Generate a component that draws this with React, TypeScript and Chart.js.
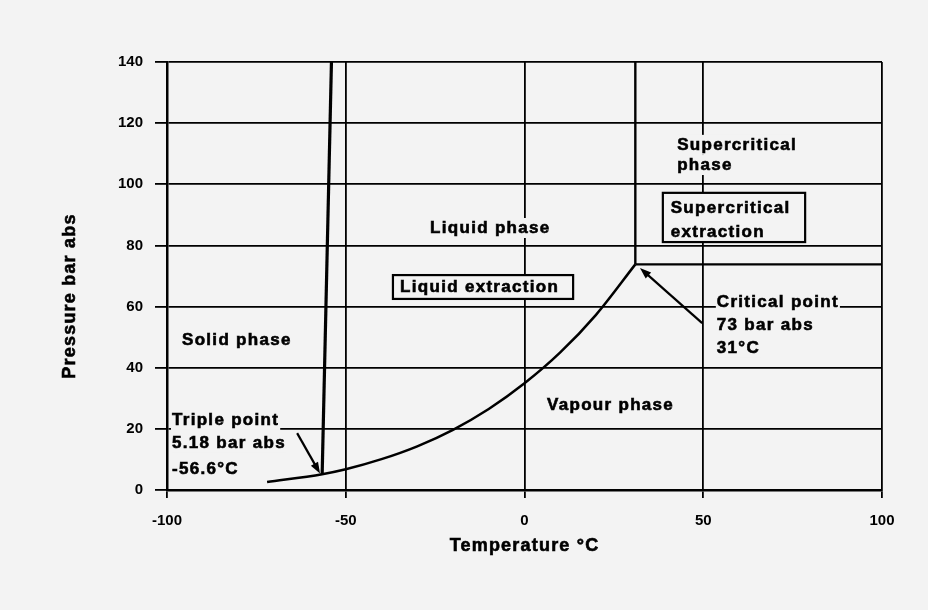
import React, { useEffect, useRef } from "react";
import { Chart, registerables } from "chart.js";

Chart.register(...registerables);

// Vapour-pressure / sublimation curve of CO2 (temperature °C, pressure bar abs)
const curveTemps = [-72, -56.6, -50, -40, -30, -20, -10, 0, 10, 20, 31];
const curvePressures = [2.6, 5.18, 6.8, 10.1, 14.3, 19.7, 26.5, 34.9, 45.0, 57.3, 73.8];

// Melting line from triple point upward
const meltTemps = [-56.6, -54];
const meltPressures = [5.18, 140];

// Critical isotherm (vertical) and critical isobar (horizontal)
const isothermTemps = [31, 31];
const isothermPressures = [73.8, 140];
const isobarTemps = [31, 100];
const isobarPressures = [73.8, 73.8];

// Axis ticks
const xTicks = [-100, -50, 0, 50, 100];
const yTicks = [0, 20, 40, 60, 80, 100, 120, 140];

const xTitle = "Temperature °C";
const yTitle = "Pressure bar abs";

// Annotation labels
const labelSolid = ["Solid phase"];
const labelLiquid = ["Liquid phase"];
const labelVapour = ["Vapour phase"];
const labelSuperPhase = ["Supercritical", "phase"];
const labelSuperExtraction = ["Supercritical", "extraction"];
const labelLiquidExtraction = ["Liquid extraction"];
const labelTriple = ["Triple point", "5.18 bar abs", "-56.6°C"];
const labelCritical = ["Critical point", "73 bar abs", "31°C"];

const BG = "#f3f3f3";
const FONT = '"Liberation Sans", Arial, Helvetica, sans-serif';

const toPts = (xs: number[], ys: number[]) => xs.map((x, i) => ({ x, y: ys[i] }));

type TextItem = { lines: string[]; t: number; p: number[]; box?: [number, number, number, number] };

const texts: TextItem[] = [
  { lines: labelSolid, t: -95.8, p: [49] },
  { lines: labelLiquid, t: -26.4, p: [85.7] },
  { lines: labelVapour, t: 6.3, p: [27.8] },
  { lines: labelSuperPhase, t: 42.7, p: [112.9, 106.3] },
  { lines: labelSuperExtraction, t: 40.9, p: [92.2, 84.4], box: [38.7, 78.5, 97.2, 81.1] },
  { lines: labelLiquidExtraction, t: -34.8, p: [66.4], box: [-36.8, 13.6, 70.3, 62.5] },
  { lines: labelTriple, t: -98.6, p: [22.9, 15.4, 6.9] },
  { lines: labelCritical, t: 53.8, p: [61.5, 54.0, 46.5] },
];

const arrows: { from: [number, number]; to: [number, number] }[] = [
  { from: [-63.6, 18.6], to: [-57.2, 5.4] },
  { from: [49.7, 54.6], to: [32.3, 72.6] },
];

const heavyText = (ctx: any, s: string, x: number, y: number) => {
  ctx.strokeText(s, x, y);
  ctx.fillText(s, x, y);
};

const annotationPlugin = {
  id: "annotations",
  beforeDraw(chart: any) {
    const { ctx } = chart;
    ctx.save();
    ctx.fillStyle = BG;
    ctx.fillRect(0, 0, chart.width, chart.height);
    ctx.restore();
  },
  afterDatasetsDraw(chart: any) {
    const { ctx, scales, chartArea } = chart;
    const xs = scales.x;
    const ys = scales.y;
    const px = (t: number) => xs.getPixelForValue(t);
    const py = (p: number) => ys.getPixelForValue(p);
    ctx.save();
    ctx.font = `bold 17px ${FONT}`;
    (ctx as any).letterSpacing = "1.3px";
    ctx.textBaseline = "middle";
    ctx.textAlign = "left";

    texts.forEach((item) => {
      if (item.box) {
        const [t0, t1, p0, p1] = item.box;
        const x0 = px(t0), x1 = px(t1), y0 = py(p0), y1 = py(p1);
        ctx.fillStyle = BG;
        ctx.fillRect(x0, y0, x1 - x0, y1 - y0);
        ctx.strokeStyle = "#000";
        ctx.lineWidth = 2.2;
        ctx.strokeRect(x0, y0, x1 - x0, y1 - y0);
      } else {
        item.lines.forEach((line, i) => {
          const w = ctx.measureText(line).width;
          const x = px(item.t);
          const y = py(item.p[i]);
          ctx.fillStyle = BG;
          ctx.fillRect(x - 1, y - 10, w + 2, 20);
        });
      }
    });
    ctx.fillStyle = "#000";
    ctx.strokeStyle = "#000";
    ctx.lineWidth = 0.6;
    texts.forEach((item) => {
      item.lines.forEach((line, i) => {
        heavyText(ctx, line, px(item.t), py(item.p[i]));
      });
    });

    arrows.forEach((a) => {
      const x0 = px(a.from[0]), y0 = py(a.from[1]);
      const x1 = px(a.to[0]), y1 = py(a.to[1]);
      const ang = Math.atan2(y1 - y0, x1 - x0);
      const head = 12;
      ctx.strokeStyle = "#000";
      ctx.lineWidth = 2.2;
      ctx.beginPath();
      ctx.moveTo(x0, y0);
      ctx.lineTo(x1 - Math.cos(ang) * head * 0.8, y1 - Math.sin(ang) * head * 0.8);
      ctx.stroke();
      ctx.beginPath();
      ctx.moveTo(x1, y1);
      ctx.lineTo(x1 - head * Math.cos(ang - 0.35), y1 - head * Math.sin(ang - 0.35));
      ctx.lineTo(x1 - head * Math.cos(ang + 0.35), y1 - head * Math.sin(ang + 0.35));
      ctx.closePath();
      ctx.fill();
    });

    ctx.font = `bold 18px ${FONT}`;
    (ctx as any).letterSpacing = "1.2px";
    ctx.textAlign = "center";
    ctx.lineWidth = 0.6;
    heavyText(ctx, xTitle, (chartArea.left + chartArea.right) / 2, chartArea.bottom + 56);
    ctx.translate(chartArea.left - 97, chartArea.top + 234);
    ctx.rotate(-Math.PI / 2);
    heavyText(ctx, yTitle, 0, 0);
    ctx.restore();
  },
};

export default function App() {
  const ref = useRef<HTMLCanvasElement>(null);
  useEffect(() => {
    if (!ref.current) return;
    const lineDs = (data: any[], width: number, extra: any = {}) => ({
      data,
      showLine: true,
      borderColor: "#000",
      borderWidth: width,
      pointRadius: 0,
      fill: false,
      ...extra,
    });
    const chart = new Chart(ref.current, {
      type: "scatter",
      data: {
        datasets: [
          lineDs(toPts(curveTemps, curvePressures), 2.5, { cubicInterpolationMode: "monotone" }),
          lineDs(toPts(meltTemps, meltPressures), 3.2),
          lineDs(toPts(isothermTemps, isothermPressures), 2.4),
          lineDs(toPts(isobarTemps, isobarPressures), 2.4),
        ],
      },
      options: {
        animation: false,
        responsive: false,
        maintainAspectRatio: false,
        layout: { padding: { left: 0, top: 62, right: 46, bottom: 0 } },
        plugins: { legend: { display: false }, tooltip: { enabled: false }, title: { display: false } },
        scales: {
          x: {
            type: "linear",
            min: xTicks[0],
            max: xTicks[xTicks.length - 1],
            afterFit: (s: any) => {
              s.height = 120;
            },
            afterBuildTicks: (s: any) => {
              s.ticks = xTicks.map((v) => ({ value: v }));
            },
            ticks: {
              color: "#000",
              font: { family: FONT, size: 15, weight: "bold" },
              padding: 14,
              maxRotation: 0,
            },
            grid: { color: "#000", lineWidth: 1.8, tickLength: 8 },
            border: { color: "#000", width: 2.5 },
          },
          y: {
            type: "linear",
            min: yTicks[0],
            max: yTicks[yTicks.length - 1],
            afterFit: (s: any) => {
              s.width = 167;
            },
            afterBuildTicks: (s: any) => {
              s.ticks = yTicks.map((v) => ({ value: v }));
            },
            ticks: {
              color: "#000",
              font: { family: FONT, size: 15, weight: "bold" },
              padding: 12,
            },
            grid: { color: "#000", lineWidth: 1.8, tickLength: 12 },
            border: { color: "#000", width: 2.5 },
          },
        },
      } as any,
      plugins: [annotationPlugin],
    });
    return () => chart.destroy();
  }, []);
  return (
    <div style={{ position: "absolute", left: 0, top: 0, width: 928, height: 610, background: BG }}>
      <canvas ref={ref} width={928} height={610} style={{ width: 928, height: 610, display: "block" }} />
    </div>
  );
}
